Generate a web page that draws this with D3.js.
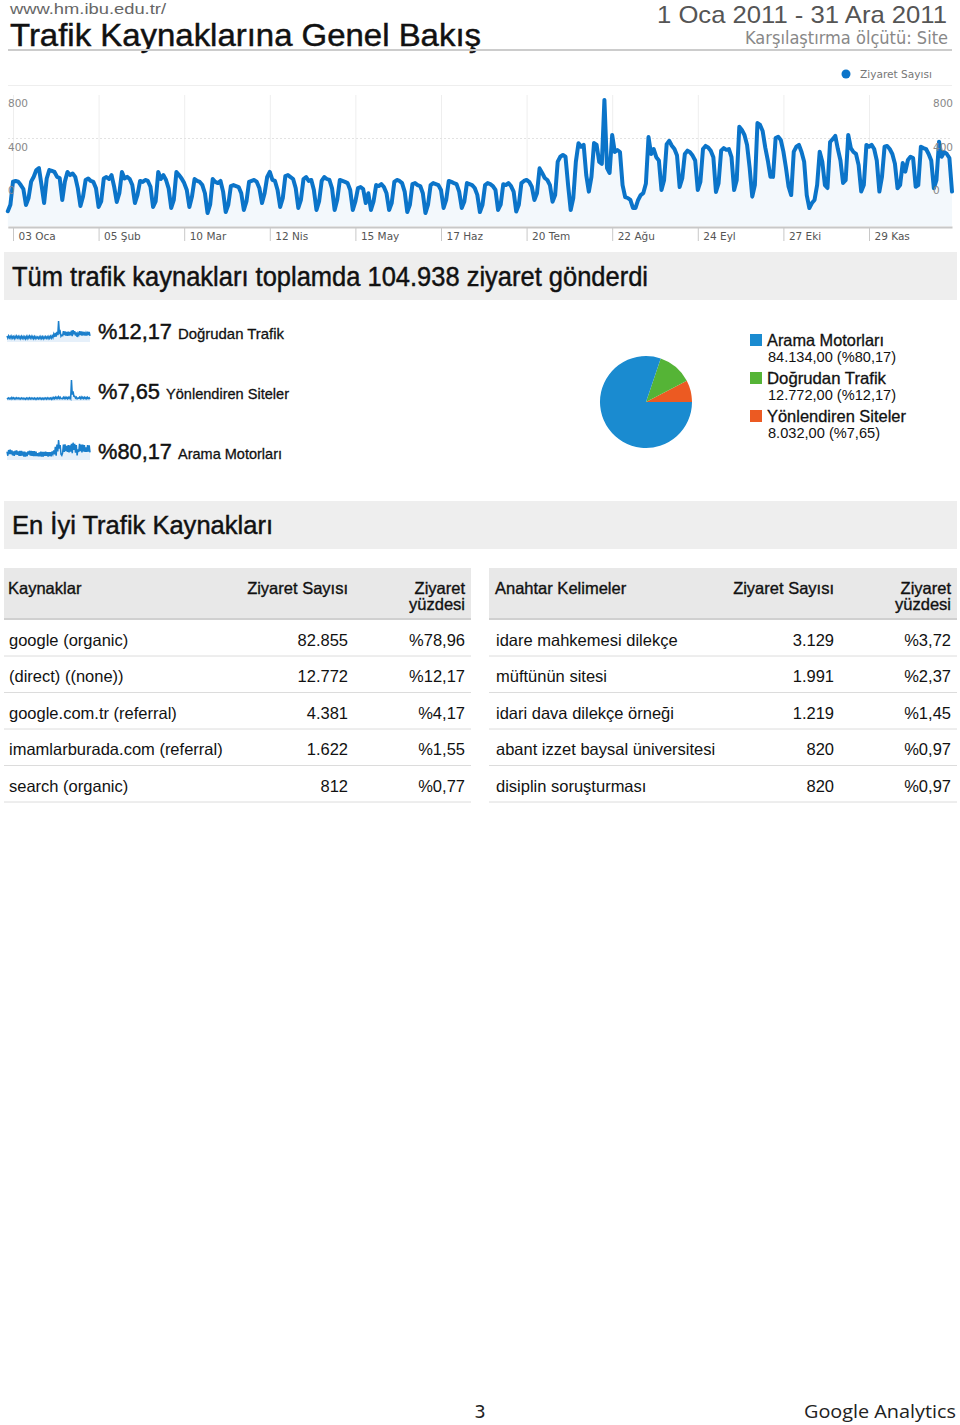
<!DOCTYPE html>
<html lang="tr">
<head>
<meta charset="UTF-8" />
<title>Trafik Kaynaklarına Genel Bakış</title>
<script src="https://d3js.org/d3.v7.min.js"></script>
<style>
  body { margin: 0; background: #fff; }
  svg text { font-family: "Liberation Sans", Arial, sans-serif; fill: #111; }
  svg text.dv { font-family: "DejaVu Sans", sans-serif; }
  svg text.hv { stroke: #111; stroke-width: 0.45px; }
</style>
</head>
<body>
<svg id="page" width="960" height="1425"></svg>
<script>
// ---- data ----
// daily visits 2011: Sat 1 Jan, Sun 2 Jan, then weeks Mon..Sun
const visitsStart = [90, 130];
const visitsWeeks = [
  [271, 275, 271, 250, 226, 128, 171], [271, 301, 342, 354, 250, 140, 290],
  [342, 336, 330, 300, 293, 159, 271], [330, 311, 320, 300, 230, 122, 180],
  [281, 290, 275, 269, 230, 116, 150], [290, 299, 287, 311, 240, 147, 200],
  [330, 290, 300, 287, 250, 140, 190], [275, 269, 281, 275, 240, 116, 150],
  [330, 287, 311, 281, 230, 110, 160], [330, 311, 290, 262, 220, 116, 180],
  [287, 275, 269, 250, 200, 79, 130], [287, 269, 262, 275, 210, 85, 130],
  [244, 250, 244, 238, 200, 98, 150], [269, 275, 281, 269, 230, 140, 200],
  [300, 330, 281, 275, 220, 116, 170], [305, 311, 299, 287, 230, 110, 160],
  [287, 299, 275, 281, 220, 98, 150], [275, 299, 287, 281, 230, 98, 160],
  [281, 275, 269, 262, 220, 98, 150], [232, 238, 226, 140, 200, 98, 150],
  [250, 244, 256, 238, 200, 98, 140], [269, 281, 275, 262, 210, 85, 130],
  [256, 262, 250, 244, 200, 79, 130], [250, 262, 256, 250, 220, 110, 160],
  [275, 269, 262, 256, 210, 110, 150], [262, 256, 250, 232, 190, 85, 130],
  [250, 262, 256, 244, 220, 98, 130], [255, 250, 262, 244, 210, 88, 130],
  [262, 275, 281, 270, 240, 159, 200], [352, 324, 293, 281, 250, 148, 189],
  [393, 423, 434, 423, 250, 98, 171], [393, 505, 484, 495, 311, 210, 300],
  [507, 495, 391, 380, 770, 354, 324], [556, 452, 464, 452, 250, 177, 171],
  [159, 110, 110, 159, 189, 201, 260], [543, 440, 470, 420, 400, 220, 280],
  [500, 520, 490, 470, 430, 238, 290], [440, 460, 450, 430, 400, 220, 270],
  [470, 489, 480, 460, 420, 208, 260], [460, 476, 465, 470, 420, 220, 280],
  [606, 586, 556, 495, 354, 179, 250], [629, 617, 580, 480, 400, 301, 300],
  [537, 545, 525, 454, 354, 240, 189], [454, 484, 495, 452, 393, 189, 110],
  [140, 159, 250, 454, 393, 250, 232], [513, 530, 550, 470, 400, 263, 280],
  [556, 476, 452, 440, 372, 210, 250], [495, 484, 495, 470, 400, 210, 300],
  [484, 489, 470, 440, 380, 230, 250], [385, 332, 403, 423, 415, 240, 250],
  [484, 476, 470, 440, 400, 230, 280], [515, 423, 452, 440, 415, 210]
];
const tickDays = ["2011-01-03", "2011-02-05", "2011-03-10", "2011-04-12", "2011-05-15", "2011-06-17",
  "2011-07-20", "2011-08-22", "2011-09-24", "2011-10-27", "2011-11-29"];
const tickLabels = ["03 Oca", "05 Şub", "10 Mar", "12 Nis", "15 May", "17 Haz",
  "20 Tem", "22 Ağu", "24 Eyl", "27 Eki", "29 Kas"];
const yTicks = [0, 400, 800];

// sparklines: weekday / weekend pairs per week
const sparkDirect = [26, 17, 27, 18, 25, 16, 26, 17, 24, 15, 25, 17, 26, 18, 25, 16, 24, 15, 25, 16,
  24, 15, 23, 14, 24, 15, 25, 17, 26, 17, 25, 16, 24, 15, 24, 15, 23, 16, 22, 15, 23, 15, 24, 15,
  23, 14, 23, 16, 24, 16, 23, 15, 24, 16, 25, 17, 27, 19,
  34, 22, 40, 24, 44, 30, 92, 40, 46, 25, 30, 28, 48, 30, 46, 28, 44, 27, 45, 28, 44, 29, 50, 26,
  52, 34, 48, 28, 42, 22, 38, 30, 47, 30, 46, 28, 45, 29, 44, 28, 40, 28, 45, 30, 44, 27];
const sparkReferral = [18, 13, 19, 13, 18, 12, 22, 14, 20, 13, 19, 13, 20, 14, 19, 12, 18, 12, 19, 13,
  18, 12, 17, 11, 18, 12, 19, 12, 20, 13, 19, 12, 18, 12, 18, 11, 17, 11, 18, 12, 19, 12, 18, 11,
  17, 11, 18, 12, 19, 12, 20, 13, 19, 12, 18, 11, 20, 12, 22, 14, 24, 15, 24, 16, 26, 16, 24, 15,
  16, 14, 23, 15, 24, 15, 22, 14, 23, 15, 24, 15, 130, 40, 60, 30, 30, 18, 24, 14, 18, 16, 24, 15,
  25, 16, 24, 15, 23, 15, 22, 14, 23, 15, 20, 12];
const sparkOrganic = [220, 110, 260, 150, 270, 150, 250, 120, 225, 110, 240, 140, 250, 135, 225, 110,
  240, 110, 240, 115, 215, 85, 215, 90, 200, 100, 225, 140, 240, 115, 240, 110, 230, 100, 230, 100,
  220, 100, 180, 95, 200, 95, 220, 90, 210, 85, 210, 110, 215, 110, 205, 90, 205, 100, 205, 95,
  225, 155, 250, 150, 340, 110, 400, 220, 520, 300, 390, 150, 120, 180, 400, 210, 410, 230, 370, 210,
  390, 200, 380, 215, 420, 180, 450, 260, 420, 190, 390, 120, 280, 210, 420, 230, 400, 200, 400, 220,
  390, 210, 330, 210, 390, 220, 380, 200];

const sourceNames = ["Arama Motorları", "Doğrudan Trafik", "Yönlendiren Siteler"];
const sourceVisits = [84134, 12772, 8032];
const sourcePct = ["%80,17", "%12,17", "%7,65"];
const sourceColors = ["#1a8bd0", "#55b436", "#ec5a22"];

const sourceRows = ["google (organic)", "(direct) ((none))", "google.com.tr (referral)",
  "imamlarburada.com (referral)", "search (organic)"];
const sourceRowVisits = ["82.855", "12.772", "4.381", "1.622", "812"];
const sourceRowPct = ["%78,96", "%12,17", "%4,17", "%1,55", "%0,77"];
const keywordRows = ["idare mahkemesi dilekçe", "müftünün sitesi", "idari dava dilekçe örneği",
  "abant izzet baysal üniversitesi", "disiplin soruşturması"];
const keywordVisits = ["3.129", "1.991", "1.219", "820", "820"];
const keywordPct = ["%3,72", "%2,37", "%1,45", "%0,97", "%0,97"];

// ---- drawing ----
const svg = d3.select("#page");
const trNum = d3.formatLocale({ decimal: ",", thousands: ".", grouping: [3], currency: ["", ""] }).format(",.2f");

function txt(g, x, y, s, size, opts = {}) {
  const t = g.append("text").attr("x", x).attr("y", y).attr("font-size", size).text(s);
  if (opts.cls) t.attr("class", opts.cls);
  if (opts.anchor) t.attr("text-anchor", opts.anchor);
  if (opts.fill) t.style("fill", opts.fill);
  if (opts.w) t.attr("textLength", opts.w).attr("lengthAdjust", "spacingAndGlyphs");
  return t;
}

// header
txt(svg, 10, 13.8, "www.hm.ibu.edu.tr/", 15, { fill: "#666", w: 156 });
txt(svg, 10, 45.5, "Trafik Kaynaklarına Genel Bakış", 31, { cls: "hv", w: 471 });
txt(svg, 947, 23, "1 Oca 2011 - 31 Ara 2011", 24, { anchor: "end", fill: "#555", w: 290 });
txt(svg, 948, 44, "Karşılaştırma ölçütü: Site", 17, { anchor: "end", fill: "#888", cls: "dv", w: 203 });
svg.append("rect").attr("x", 8).attr("y", 49).attr("width", 944).attr("height", 2).attr("fill", "#ccc");

// main line chart
const dates = d3.timeDays(new Date(2011, 0, 1), new Date(2012, 0, 1));
const visits = visitsStart.concat(visitsWeeks.flat());
const series = dates.map((d, i) => ({ date: d, v: visits[i] }));
const parseDay = d3.timeParse("%Y-%m-%d");

const x = d3.scaleTime().domain([new Date(2011, 0, 1), new Date(2011, 11, 31)]).range([7.8, 952]);
const y = d3.scaleLinear().domain([0, 800]).range([226, 95]);
// axis labels sit where the export drew them
const yLab = d3.scaleLinear().domain([0, 800]).range([190, 103]);

svg.append("circle").attr("cx", 846).attr("cy", 74).attr("r", 4.5).attr("fill", "#0b74c9");
txt(svg, 860, 78, "Ziyaret Sayısı", 10, { cls: "dv", fill: "#777", w: 72 });
svg.append("line").attr("x1", 8).attr("x2", 952).attr("y1", 85.5).attr("y2", 85.5).attr("stroke", "#eee");

const grid = svg.append("g");
grid.selectAll("line.v").data(tickDays).join("line")
  .attr("x1", d => x(parseDay(d)) + 0.5).attr("x2", d => x(parseDay(d)) + 0.5)
  .attr("y1", 95).attr("y2", 226).attr("stroke", "#eeeeee");
grid.append("line").attr("x1", 8).attr("x2", 952)
  .attr("y1", yLab(400) - 8).attr("y2", yLab(400) - 8)
  .attr("stroke", "#e2e2e2").attr("stroke-dasharray", "2,2");

svg.append("path").datum(series)
  .attr("fill", "#f3f8fc")
  .attr("d", d3.area().x(d => x(d.date)).y0(y(0)).y1(d => y(d.v)));
svg.append("path").datum(series)
  .attr("fill", "none").attr("stroke", "#0b74c9").attr("stroke-width", 4)
  .attr("stroke-linejoin", "round").attr("stroke-linecap", "round")
  .attr("d", d3.line().x(d => x(d.date)).y(d => y(d.v)));

const yl = svg.append("g");
yTicks.forEach(v => {
  txt(yl, 8, yLab(v) + 4, String(v), 10.5, { cls: "dv", fill: "#888" });
  txt(yl, 933, yLab(v) + 4, String(v), 10.5, { cls: "dv", fill: "#888" });
});

const xAxis = svg.append("g").attr("transform", "translate(0,227)")
  .call(d3.axisBottom(x).tickValues(tickDays.map(parseDay))
    .tickFormat((d, i) => tickLabels[i]).tickSize(14).tickSizeOuter(0));
xAxis.select(".domain").attr("stroke", "#c8c8c8").attr("stroke-width", 2);
xAxis.selectAll(".tick line").attr("stroke", "#c8c8c8");
xAxis.selectAll(".tick text").attr("class", "dv").attr("x", 5).attr("y", 6).attr("dy", "0.71em")
  .attr("text-anchor", "start").attr("font-size", 10.5).style("fill", "#555");

// section: total
svg.append("rect").attr("x", 4).attr("y", 252).attr("width", 953).attr("height", 48).attr("fill", "#eeeeee");
txt(svg, 12, 286, "Tüm trafik kaynakları toplamda 104.938 ziyaret gönderdi", 27, { cls: "hv", w: 636 });

// sparklines
const sparks = [
  { data: sparkDirect, top: 321, bottom: 342, pct: sourcePct[1], name: sourceNames[1], base: 339, w1: 74, w2: 106 },
  { data: sparkReferral, top: 380, bottom: 401, pct: sourcePct[2], name: sourceNames[2], base: 399, w1: 62, w2: 123 },
  { data: sparkOrganic, top: 440, bottom: 460, pct: sourcePct[0], name: sourceNames[0], base: 459, w1: 74, w2: 104 }
];
sparks.forEach(s => {
  const sx = d3.scaleLinear().domain([0, s.data.length - 1]).range([7, 90]);
  const sy = d3.scaleLinear().domain([0, d3.max(s.data)]).range([s.bottom, s.top]);
  svg.append("path").datum(s.data).attr("fill", "#e6f0fa")
    .attr("d", d3.area().x((d, i) => sx(i)).y0(s.bottom).y1(d => sy(d)));
  svg.append("path").datum(s.data).attr("fill", "none").attr("stroke", "#1a7fcc").attr("stroke-width", 1.5)
    .attr("d", d3.line().x((d, i) => sx(i)).y(d => sy(d)));
  txt(svg, 98, s.base, s.pct, 22, { cls: "hv", w: s.w1 });
  txt(svg, 98 + s.w1 + 6, s.base, s.name, 15, { cls: "hv", w: s.w2 }).style("stroke-width", "0.3px");
});

// pie
const pieOrder = [2, 1, 0];
const pie = d3.pie().sort(null).value(i => sourceVisits[i])
  .startAngle(Math.PI / 2).endAngle(Math.PI / 2 - 2 * Math.PI);
const arc = d3.arc().innerRadius(0).outerRadius(46);
svg.append("g").attr("transform", "translate(646,402)")
  .selectAll("path").data(pie(pieOrder)).join("path")
  .attr("d", arc).attr("fill", d => sourceColors[d.data]);

const leg = svg.append("g");
const legW = [[117, 128], [119, 128], [139, 112]];
sourceNames.forEach((n, i) => {
  const ly = 334 + i * 38;
  leg.append("rect").attr("x", 750).attr("y", ly).attr("width", 12).attr("height", 12).attr("fill", sourceColors[i]);
  txt(leg, 767, ly + 12, n, 16.5, { cls: "hv", w: legW[i][0] }).style("stroke-width", "0.3px");
  txt(leg, 768, ly + 28, trNum(sourceVisits[i]) + " (" + sourcePct[i] + ")", 14.5, { w: legW[i][1] });
});

// section: best sources
svg.append("rect").attr("x", 4).attr("y", 501).attr("width", 953).attr("height", 48).attr("fill", "#eeeeee");
txt(svg, 12, 534, "En İyi Trafik Kaynakları", 26, { cls: "hv", w: 261 });

// tables
const rowY = d3.scaleLinear().domain([0, 5]).range([620, 802.5]);
function table(x0, width, head, cols, names, vals, pcts) {
  const g = svg.append("g");
  g.append("rect").attr("x", x0).attr("y", 568).attr("width", width).attr("height", 51).attr("fill", "#e8e8e8");
  g.append("rect").attr("x", x0).attr("y", 618).attr("width", width).attr("height", 2).attr("fill", "#d0d0d0");
  [txt(g, cols[0], 594, head, 16.5),
   txt(g, cols[1], 594, "Ziyaret Sayısı", 16.5, { anchor: "end" }),
   txt(g, cols[2], 594, "Ziyaret", 16.5, { anchor: "end" }),
   txt(g, cols[2], 610, "yüzdesi", 16.5, { anchor: "end" })]
    .forEach(t => t.attr("class", "hv").style("stroke-width", "0.35px"));
  names.forEach((n, i) => {
    const ry = rowY(i);
    txt(g, cols[0] + 1, ry + 25.5, n, 16.5);
    txt(g, cols[1], ry + 25.5, vals[i], 16.5, { anchor: "end" });
    txt(g, cols[2], ry + 25.5, pcts[i], 16.5, { anchor: "end" });
    g.append("line").attr("x1", x0).attr("x2", x0 + width)
      .attr("y1", rowY(i + 1) - 0.5).attr("y2", rowY(i + 1) - 0.5).attr("stroke", "#dcdcdc");
  });
}
table(4, 467, "Kaynaklar", [8, 348, 465], sourceRows, sourceRowVisits, sourceRowPct);
table(489, 468, "Anahtar Kelimeler", [495, 834, 951], keywordRows, keywordVisits, keywordPct);

// footer
txt(svg, 480, 1418, "3", 18, { anchor: "middle", cls: "dv", fill: "#222" });
txt(svg, 956, 1418, "Google Analytics", 19, { anchor: "end", fill: "#222", w: 152 }).style("font-family", "'Open Sans', sans-serif");
</script>
</body>
</html>
